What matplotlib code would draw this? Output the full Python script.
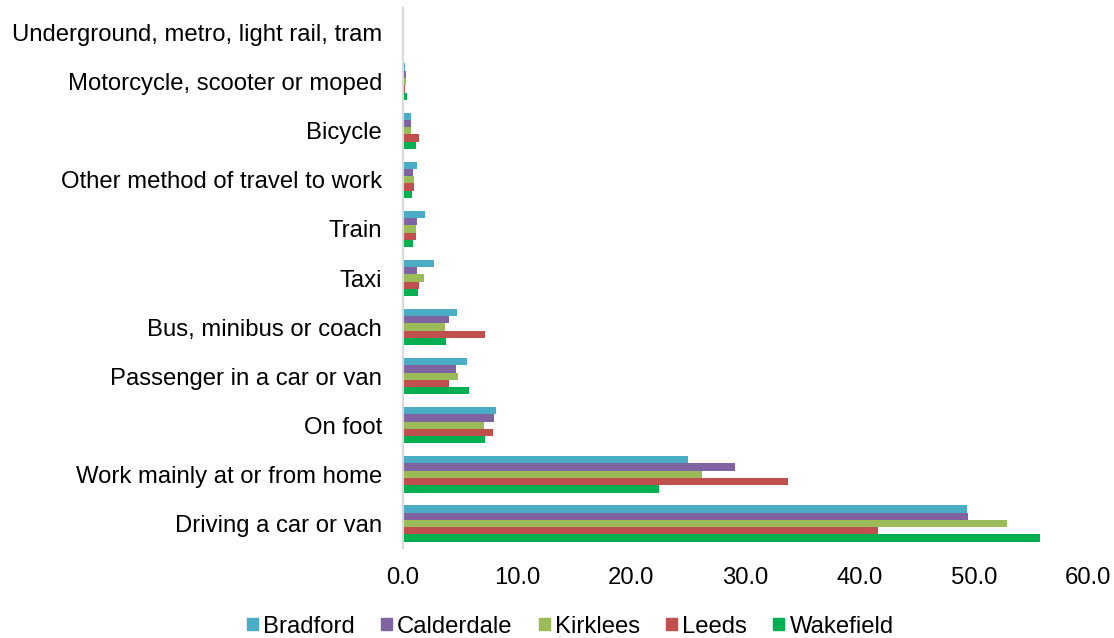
import numpy as np
import matplotlib.pyplot as plt
from matplotlib.patches import Patch

plt.rcParams['font.family'] = ['Liberation Sans', 'DejaVu Sans']

categories = ['Driving a car or van', 'Work mainly at or from home', 'On foot',
              'Passenger in a car or van', 'Bus, minibus or coach', 'Taxi', 'Train',
              'Other method of travel to work', 'Bicycle',
              'Motorcycle, scooter or moped', 'Underground, metro, light rail, tram']

bradford = [49.4, 25.0, 8.1, 5.6, 4.7, 2.7, 1.9, 1.2, 0.7, 0.15, 0.05]
calderdale = [49.5, 29.1, 8.0, 4.6, 4.0, 1.2, 1.2, 0.9, 0.7, 0.25, 0.03]
kirklees = [52.9, 26.2, 7.1, 4.8, 3.7, 1.8, 1.1, 1.0, 0.7, 0.23, 0.03]
leeds = [41.6, 33.7, 7.9, 4.0, 7.2, 1.4, 1.1, 1.0, 1.4, 0.15, 0.05]
wakefield = [55.8, 22.4, 7.2, 5.8, 3.8, 1.3, 0.9, 0.8, 1.1, 0.38, 0.03]

names = ['Bradford', 'Calderdale', 'Kirklees', 'Leeds', 'Wakefield']
series = [bradford, calderdale, kirklees, leeds, wakefield]
colors = ['#4BACC6', '#8064A2', '#9BBB59', '#C0504D', '#00B050']

fig = plt.figure(figsize=[11.14, 6.38], dpi=100)
ax = fig.add_axes([0.3618, 0.141, 0.6149, 0.8465])

y = np.arange(len(categories))
h = 0.148
for i, (vals, col) in enumerate(zip(series, colors)):
    # Bradford on top of each group, Wakefield at the bottom
    ax.barh(y + (2 - i) * h, vals, height=h, color=col)

ax.set_yticks(y)
ax.set_yticklabels(categories, fontsize=17.2, color='#000000')
ax.set_ylim(-0.5, len(categories) - 0.5)
ax.set_xlim(0, 60)
ax.set_xticks(np.arange(0, 61, 10))
ax.set_xticklabels([f'{v:.1f}' for v in np.arange(0, 61, 10)], fontsize=17.2)
ax.tick_params(axis='y', length=0, pad=15)
ax.tick_params(axis='x', length=0, pad=14)

for s in ['top', 'right', 'bottom']:
    ax.spines[s].set_visible(False)
ax.spines['left'].set_color('#D9D9D9')
ax.spines['left'].set_linewidth(1.5)

handles = [Patch(color=c, label=n) for n, c in zip(names, colors)]
fig.legend(handles=handles, loc='center', bbox_to_anchor=(0.512, 0.018),
           ncol=5, frameon=False, fontsize=17.2, handlelength=0.45,
           handleheight=0.45, handletextpad=0.22, columnspacing=1.1)

plt.savefig('out.png', dpi=100)
